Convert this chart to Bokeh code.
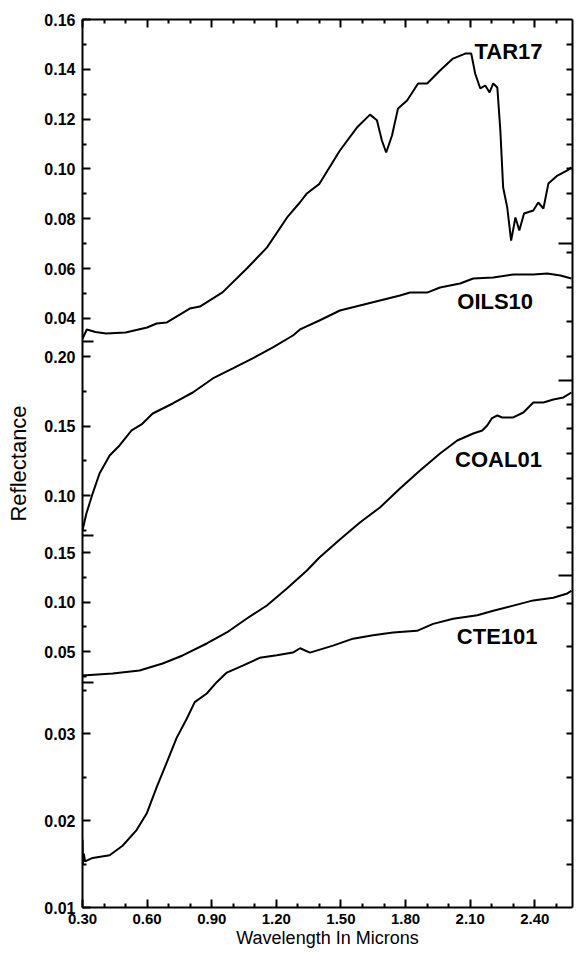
import json
from bokeh.plotting import figure
from bokeh.models import Range1d, LinearAxis, FixedTicker, PrintfTickFormatter, CustomJSTickFormatter
from bokeh.embed import file_html
from bokeh.resources import INLINE
from bokeh.core.properties import value

# ---------------- data ----------------
tar_x = [0.30, 0.32, 0.36, 0.41, 0.50, 0.60, 0.644, 0.69, 0.798, 0.845, 0.95, 1.063, 1.156,
         1.25, 1.31, 1.34, 1.40, 1.495, 1.574, 1.635, 1.667, 1.69, 1.71, 1.737, 1.765, 1.807,
         1.858, 1.90, 1.96, 2.02, 2.077, 2.105, 2.123, 2.147, 2.17, 2.19, 2.207, 2.226, 2.24,
         2.253, 2.272, 2.29, 2.31, 2.328, 2.35, 2.393, 2.416, 2.44, 2.463, 2.505, 2.551, 2.57]
tar_y = [0.0318, 0.0355, 0.0345, 0.0339, 0.0343, 0.0363, 0.0379, 0.0383, 0.0439, 0.0447, 0.0504,
         0.0600, 0.0684, 0.0805, 0.0866, 0.0900, 0.0940, 0.1074, 0.1166, 0.1218, 0.1195, 0.1114,
         0.1066, 0.1134, 0.1243, 0.1275, 0.1343, 0.1343, 0.1395, 0.1443, 0.1463, 0.1463, 0.1383,
         0.1323, 0.1335, 0.1307, 0.1343, 0.1327, 0.1154, 0.0925, 0.0845, 0.0712, 0.0805, 0.0753,
         0.0821, 0.0833, 0.0865, 0.0841, 0.0941, 0.0973, 0.0994, 0.1006]

oils_x = [0.30, 0.318, 0.347, 0.379, 0.426, 0.472, 0.528, 0.574, 0.626, 0.719, 0.812, 0.905,
          0.998, 1.09, 1.184, 1.277, 1.31, 1.40, 1.495, 1.588, 1.681, 1.774, 1.821, 1.90, 1.96,
          2.053, 2.114, 2.207, 2.30, 2.393, 2.458, 2.519, 2.57]
oils_y = [0.0748, 0.0870, 0.1014, 0.1158, 0.1288, 0.1360, 0.1468, 0.1511, 0.1590, 0.1662, 0.1741,
          0.1842, 0.1914, 0.1986, 0.2065, 0.2151, 0.2195, 0.2259, 0.2331, 0.2367, 0.2403, 0.2439,
          0.2460, 0.2460, 0.2496, 0.2525, 0.2561, 0.2568, 0.2590, 0.2590, 0.2597, 0.2583, 0.2561]

coal_x = [0.30, 0.44, 0.565, 0.672, 0.765, 0.877, 0.97, 1.063, 1.156, 1.249, 1.342, 1.40, 1.495,
          1.588, 1.681, 1.774, 1.867, 1.96, 2.04, 2.114, 2.156, 2.179, 2.20, 2.226, 2.249, 2.30,
          2.347, 2.393, 2.44, 2.486, 2.533, 2.57]
coal_y = [0.0258, 0.0278, 0.0308, 0.0379, 0.0460, 0.0581, 0.0692, 0.0833, 0.0965, 0.1136, 0.1318,
          0.1449, 0.1631, 0.1803, 0.1955, 0.2146, 0.2328, 0.2500, 0.2631, 0.2702, 0.2732, 0.2783,
          0.2854, 0.2884, 0.2864, 0.2864, 0.2914, 0.3015, 0.3015, 0.3045, 0.3066, 0.3116]

cte_x = [0.300, 0.302, 0.306, 0.312, 0.347, 0.426, 0.486, 0.551, 0.598, 0.644, 0.69, 0.737,
         0.784, 0.821, 0.877, 0.923, 0.97, 1.044, 1.123, 1.202, 1.277, 1.31, 1.356, 1.463,
         1.556, 1.649, 1.742, 1.853, 1.928, 2.021, 2.133, 2.207, 2.30, 2.393, 2.486, 2.551, 2.57]
cte_y = [0.0178, 0.0150, 0.0162, 0.0153, 0.0157, 0.0160, 0.0171, 0.0189, 0.0208, 0.0238, 0.0266,
         0.0295, 0.0317, 0.0336, 0.0346, 0.0359, 0.0370, 0.0378, 0.0387, 0.0390, 0.0393, 0.0398,
         0.0393, 0.0401, 0.0409, 0.0413, 0.0416, 0.0418, 0.0426, 0.0432, 0.0436, 0.0441, 0.0447,
         0.0453, 0.0456, 0.0461, 0.0464]

series_names = ["TAR17", "OILS10", "COAL01", "CTE101"]
series_keys = ["tar", "oils", "coal", "cte"]
series_x = {"tar": tar_x, "oils": oils_x, "coal": coal_x, "cte": cte_x}
series_y = {"tar": tar_y, "oils": oils_y, "coal": coal_y, "cte": cte_y}

# tick values
x_major = [0.30, 0.60, 0.90, 1.20, 1.50, 1.80, 2.10, 2.40]
x_minor = [0.40, 0.50, 0.70, 0.80, 1.00, 1.10, 1.30, 1.40, 1.60, 1.70, 1.90, 2.00, 2.20, 2.30, 2.50]
left_major = {"tar": [0.04, 0.06, 0.08, 0.10, 0.12, 0.14, 0.16],
              "oils": [0.10, 0.15, 0.20],
              "coal": [0.05, 0.10, 0.15],
              "cte": [0.01, 0.02, 0.03]}
left_minor = {"tar": [0.05, 0.07, 0.09, 0.11, 0.13, 0.15],
              "oils": [0.075, 0.125, 0.175],
              "coal": [0.025, 0.075, 0.125],
              "cte": [0.015, 0.025, 0.035]}
right_ticks = {"tar": [0.08, 0.09, 0.10, 0.11, 0.12, 0.13, 0.14, 0.15],
               "oils": [0.20, 0.225, 0.25, 0.275],
               "coal": [0.15, 0.175, 0.20, 0.225, 0.25, 0.275, 0.30],
               "cte": [0.015, 0.02, 0.025, 0.03, 0.035, 0.04, 0.045]}

# ---------------- layout (pixel calibration of each offset scale) ----------------
# curve key: (reference value, its page row, pixels per unit)
CAL = {"tar": (0.16, 19, 2490.0), "oils": (0.20, 356, 1390.0),
       "coal": (0.15, 552, 990.0), "cte": (0.03, 733, 8700.0)}
TOP_ROW, BOTTOM_ROW = 19, 907
LEFT_SPAN = {"tar": (19, 341), "oils": (341, 535), "coal": (535, 682), "cte": (682, 907)}
RIGHT_SPAN = {"tar": (19, 243), "oils": (243, 380), "coal": (380, 575), "cte": (575, 907)}
LEFT_CROSS = [341, 535, 682]
RIGHT_CROSS = [243, 380, 575]
LABEL_POS = {"tar": (2.12, 0.1471), "oils": (2.04, 0.2396), "coal": (2.03, 0.2442), "cte": (2.038, 0.0411)}

W = 578
BL, BR = 82, 6
TOP_B, BOT_B = TOP_ROW, 46
H = TOP_B + (BOTTOM_ROW - TOP_ROW) + BOT_B
FONT = "Liberation Sans"
X0, X1 = 0.2999999, 2.575
XPX = (W - BL - BR) / (X1 - X0)   # pixels per micron along x


def row_to_val(key, row):
    r, y0, k = CAL[key]
    return r - (row - y0) / k


def val_to_row(key, v):
    r, y0, k = CAL[key]
    return round(y0 - (v - r) * k, 2)


def rows_in(key, vals, span):
    lo, hi = span
    return [val_to_row(key, v) for v in vals if lo - 0.01 <= val_to_row(key, v) <= hi + 0.01]


# tick rows and their labels on the shared page-row scale
left_rows, left_minor_rows, lut = [], [], {}
for k in series_keys:
    for v in left_major[k]:
        rr = val_to_row(k, v)
        lo, hi = LEFT_SPAN[k]
        if lo - 0.01 <= rr <= hi + 0.01:
            left_rows.append(rr)
            lut["%.2f" % rr] = "%.2f" % v
    left_minor_rows += rows_in(k, left_minor[k], LEFT_SPAN[k])
right_rows = []
for k in series_keys:
    right_rows += rows_in(k, right_ticks[k], RIGHT_SPAN[k])

p = figure(width=W, height=H, x_range=Range1d(X0, X1), y_range=Range1d(BOTTOM_ROW, TOP_ROW),
           output_backend="svg", toolbar_location=None,
           x_axis_location=None, y_axis_location=None,
           min_border_left=BL, min_border_right=BR, min_border_top=TOP_B, min_border_bottom=BOT_B)
p.outline_line_color = None
p.grid.grid_line_color = None
p.extra_y_ranges = {k: Range1d(row_to_val(k, BOTTOM_ROW), row_to_val(k, TOP_ROW)) for k in series_keys}

for k in series_keys:
    p.line(series_x[k], series_y[k], y_range_name=k, line_color="black", line_width=2)
for k, name in zip(series_keys, series_names):
    lx, ly = LABEL_POS[k]
    p.text(x=[lx], y=[ly], text=[name], y_range_name=k, text_font=value(FONT),
           text_font_style="bold", text_font_size="22px", text_baseline="middle",
           text_align="left", text_color="black")

# cross marks where the offset scales meet
p.segment(x0=[X0] * len(LEFT_CROSS), y0=LEFT_CROSS, x1=[X0 + 11 / XPX] * len(LEFT_CROSS), y1=LEFT_CROSS,
          line_color="black", line_width=2)
p.segment(x0=[X1 - 14 / XPX] * len(RIGHT_CROSS), y0=RIGHT_CROSS, x1=[X1] * len(RIGHT_CROSS), y1=RIGHT_CROSS,
          line_color="black", line_width=2)


def style_axis(ax, tin, tout, mtin=0, mtout=0, labels=True):
    ax.axis_line_color = "black"
    ax.axis_line_width = 2
    ax.major_tick_line_color = "black"
    ax.minor_tick_line_color = "black"
    ax.major_tick_in = tin
    ax.major_tick_out = tout
    ax.minor_tick_in = mtin
    ax.minor_tick_out = mtout
    ax.major_tick_line_width = 2
    ax.minor_tick_line_width = 2
    if labels:
        ax.major_label_text_font = FONT
        ax.major_label_text_font_style = "bold"
        ax.major_label_text_font_size = "16px"
        ax.major_label_text_color = "black"
    else:
        ax.major_label_text_color = None
        ax.major_label_text_font_size = "1px"
        ax.major_label_standoff = 0


code = "const lut = %s; const k = tick.toFixed(2); return (lut[k] !== undefined) ? lut[k] : '';" % json.dumps(lut)
la = LinearAxis(ticker=FixedTicker(ticks=left_rows, minor_ticks=left_minor_rows),
                formatter=CustomJSTickFormatter(code=code))
style_axis(la, 8, 0, 4, 0)
la.major_label_standoff = 7
la.axis_label = "Reflectance"
la.axis_label_text_font = FONT
la.axis_label_text_font_style = "normal"
la.axis_label_text_font_size = "22px"
la.axis_label_text_color = "black"
la.axis_label_standoff = 10
p.add_layout(la, "left")

ra = LinearAxis(ticker=FixedTicker(ticks=right_rows))
style_axis(ra, 6, 0, labels=False)
p.add_layout(ra, "right")

ta = LinearAxis(ticker=FixedTicker(ticks=x_major, minor_ticks=x_minor))
style_axis(ta, 8, 0, 4, 0, labels=False)
p.add_layout(ta, "above")

xa = LinearAxis(ticker=FixedTicker(ticks=x_major, minor_ticks=x_minor),
                formatter=PrintfTickFormatter(format="%.2f"))
style_axis(xa, 8, 0, 4, 0)
xa.major_label_text_font_size = "15px"
xa.major_label_standoff = 6
xa.axis_label = "Wavelength In Microns"
xa.axis_label_text_font = FONT
xa.axis_label_text_font_style = "normal"
xa.axis_label_text_font_size = "18px"
xa.axis_label_text_color = "black"
xa.axis_label_standoff = 1
p.add_layout(xa, "below")

open("out.html", "w").write(file_html(p, INLINE))
